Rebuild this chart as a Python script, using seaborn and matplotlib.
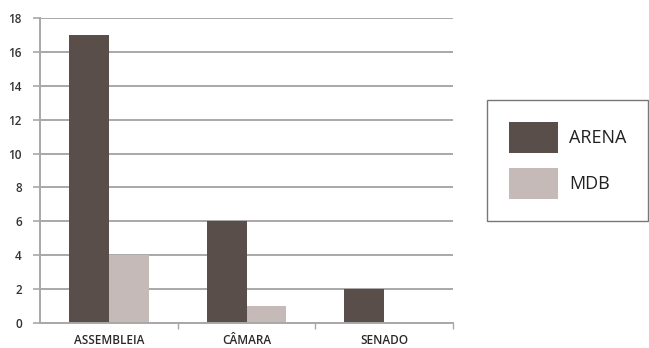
import matplotlib
matplotlib.use("Agg")
import matplotlib.pyplot as plt
import seaborn as sns
import pandas as pd

categories = ["ASSEMBLEIA", "CÂMARA", "SENADO"]
arena = [17, 6, 2]
mdb = [4, 1, 0]
series = ["ARENA", "MDB"]
yticks = [0, 2, 4, 6, 8, 10, 12, 14, 16, 18]

df = pd.DataFrame({
    "cat": categories * 2,
    "party": ["ARENA"] * len(categories) + ["MDB"] * len(categories),
    "value": arena + mdb,
})

sns.set_theme(style="white")
plt.rcParams["font.family"] = ["Open Sans", "DejaVu Sans"]

fig = plt.figure(figsize=(6.49, 3.48), dpi=100)
ax = fig.add_axes([40 / 649, 25 / 348, 413 / 649, 305 / 348])

palette = {"ARENA": "#5a4e4b", "MDB": "#c5bab8"}
sns.barplot(data=df, x="cat", y="value", hue="party", palette=palette,
            width=0.58, saturation=1, ax=ax, legend=False, linewidth=0)

ax.set_xlim(-0.5, 2.5)
ax.set_ylim(0, 18)
ax.set_yticks(yticks)
ax.set_yticklabels([str(t) for t in yticks], fontsize=8.5, color="#333333",
                   fontweight="semibold")
for lab in ax.get_xticklabels():
    lab.set_fontweight("semibold")
ax.yaxis.grid(True, color="#a8a8a8", linewidth=1.4)
ax.set_axisbelow(True)
ax.set_xlabel("")
ax.set_ylabel("")
ax.tick_params(axis="x", length=0, labelsize=8.5, labelcolor="#2a2a2a", pad=8)
ax.tick_params(axis="y", length=5, width=1.2, color="#a8a8a8", left=True, pad=8)
ax.set_xticks([0.5, 1.5, 2.5], minor=True)
ax.tick_params(axis="x", which="minor", length=4, width=1, color="#a8a8a8", bottom=True)

for s in ["top", "right"]:
    ax.spines[s].set_visible(False)
ax.spines["left"].set_color("#a8a8a8")
ax.spines["left"].set_linewidth(1.4)
ax.spines["bottom"].set_color("#a8a8a8")
ax.spines["bottom"].set_linewidth(1.4)

from matplotlib.patches import Patch
handles = [Patch(facecolor=palette[s], edgecolor="none", label=s) for s in series]
leg = fig.legend(handles=handles, loc="upper left",
                 bbox_to_anchor=(487 / 649, 1 - 100 / 348),
                 frameon=True, fontsize=13, handlelength=2.75, handleheight=2.3,
                 handletextpad=0.6, labelspacing=0.8, borderpad=1.2,
                 borderaxespad=0, fancybox=False)
leg.get_frame().set_edgecolor("#555555")
leg.get_frame().set_linewidth(1.0)
for t in leg.get_texts():
    t.set_color("#222222")

fig.savefig("out.png", dpi=100)
